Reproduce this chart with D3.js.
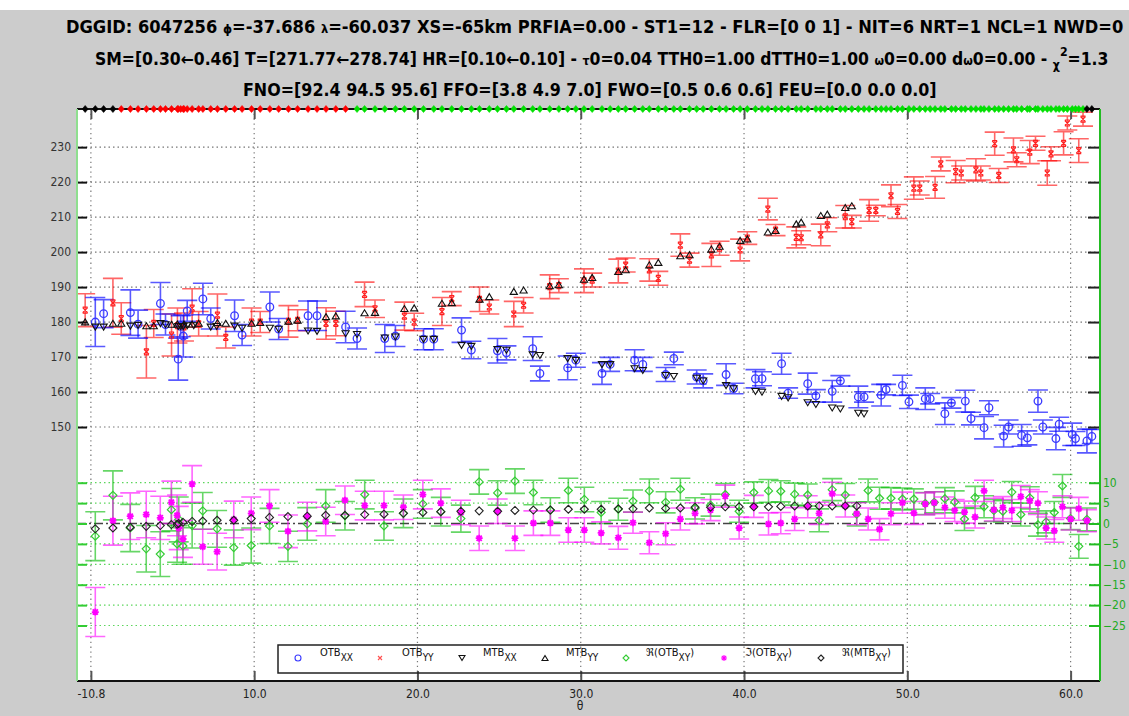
<!DOCTYPE html>
<html>
<head>
<meta charset="utf-8">
<script src="https://cdn.jsdelivr.net/npm/d3@7"></script>
<style>
  body { margin: 0; background: #fff; }
  svg { display: block; }
</style>
</head>
<body>
<svg id="chart" width="1129" height="716"></svg>
<script>
// ---- brightness temperatures vs incidence angle ----
const xxTheta = [0.27, 0.78, 2.42, 2.89, 4.26, 4.57, 5.35, 5.5, 5.66, 5.9, 6.86, 7.34, 8.8, 9.26, 10.96, 11.5, 13.3, 13.85, 15.6, 16.3, 18.0, 18.65, 20.37, 21.0, 22.7, 23.3, 24.9, 25.45, 27.06, 27.5, 29.2, 29.7, 31.3, 31.8, 33.3, 33.8, 35.2, 35.7, 37.1, 37.5, 38.9, 39.36, 40.7, 41.1, 42.3, 42.7, 43.9, 44.4, 45.4, 45.9, 47.0, 47.35, 48.4, 48.7, 49.7, 50.1, 51.1, 51.4, 52.3, 52.7, 53.55, 53.9, 54.7, 55.0, 55.9, 56.2, 57.0, 57.35, 58.0, 58.3, 59.1, 59.3, 60.1, 60.3, 61.0, 61.3];
const xxVal = [180.0, 182.4, 182.7, 179.4, 185.3, 179.3, 169.4, 178.8, 176.0, 183.2, 186.6, 181.0, 181.8, 176.3, 184.3, 178.0, 181.8, 181.8, 178.6, 175.3, 175.3, 176.0, 175.1, 175.1, 177.7, 172.0, 171.8, 171.2, 172.4, 165.3, 166.9, 169.1, 165.3, 167.9, 169.1, 167.9, 165.0, 169.6, 164.3, 163.2, 165.0, 161.0, 163.8, 163.8, 168.1, 159.7, 162.4, 158.9, 160.2, 163.2, 158.6, 158.6, 159.1, 160.7, 161.9, 157.2, 158.1, 158.1, 153.8, 156.9, 157.4, 152.4, 149.8, 155.5, 147.4, 150.0, 147.6, 146.9, 157.4, 150.0, 146.7, 150.8, 147.9, 146.7, 146.0, 147.3];
const xxErr = [7, 4, 6.5, 4, 6, 3, 6, 3, 6, 3, 4.5, 3, 4.5, 3, 4.3, 3, 4.2, 4.2, 4.5, 3, 4, 3, 3, 3, 3.5, 2.5, 3.5, 2, 3.4, 2.1, 3.4, 2, 3.1, 2, 3, 2, 2, 1.8, 2, 2, 3.1, 1.5, 2.6, 2, 3, 1.5, 3, 1.8, 3.1, 1.5, 3.1, 1.5, 3.1, 1.5, 2.9, 1.9, 3.1, 1.5, 3.1, 1.5, 3.1, 1.8, 3.2, 2, 3.1, 2, 3.1, 2, 3.2, 2, 3.2, 2, 3.2, 2, 3.4, 2];

const yyTheta = [-0.35, 1.35, 1.86, 3.4, 3.85, 4.94, 5.3, 5.7, 6.2, 6.6, 7.75, 8.26, 9.84, 10.37, 12.1, 12.66, 14.4, 15.0, 16.76, 17.4, 19.2, 19.8, 21.5, 22.1, 23.8, 24.4, 25.9, 26.5, 28.1, 28.66, 30.2, 30.7, 32.3, 32.75, 34.2, 34.75, 36.1, 36.66, 38.0, 38.5, 39.76, 40.2, 41.46, 41.93, 43.2, 43.5, 44.7, 45.1, 46.2, 46.6, 47.66, 48.07, 49.0, 49.4, 50.4, 50.76, 51.7, 52.05, 52.96, 53.3, 54.2, 54.5, 55.35, 55.6, 56.5, 56.7, 57.5, 57.85, 58.57, 58.8, 59.57, 59.8, 60.5, 60.76];
const yyVal = [183.4, 185.5, 181.0, 171.5, 179.6, 176.3, 179.0, 178.6, 184.0, 179.5, 182.0, 175.6, 180.0, 180.0, 180.2, 180.5, 179.6, 179.6, 187.9, 183.8, 181.7, 180.0, 183.0, 186.7, 186.5, 184.3, 182.3, 184.8, 190.1, 190.4, 191.8, 192.0, 194.6, 196.3, 194.9, 192.5, 202.0, 197.7, 199.2, 201.1, 200.6, 204.0, 212.3, 206.3, 204.2, 204.1, 204.9, 207.8, 210.1, 208.7, 211.9, 211.9, 216.1, 211.6, 218.3, 218.3, 218.5, 225.2, 223.0, 222.6, 223.5, 222.6, 231.0, 221.9, 229.2, 226.4, 228.6, 231.1, 222.6, 228.1, 231.1, 236.9, 229.0, 238.0];
const yyErr = [4.7, 7, 4.5, 7.5, 4, 6, 5, 4, 5.5, 3.5, 6, 3, 4, 3, 4.5, 3, 4.5, 3.5, 3.5, 2.5, 4, 2.5, 4, 2, 3.5, 2, 3.6, 2.2, 3.4, 2, 3.4, 2, 3.4, 2, 3.2, 2, 3.2, 2, 3.3, 2, 3.1, 1.8, 3.1, 1.6, 3, 2, 3.1, 2, 3.2, 1.8, 3.1, 1.5, 3.1, 2, 3.2, 2, 3.1, 2, 3.2, 2, 3.2, 2, 3.3, 2, 3.4, 2, 3.3, 2, 3.5, 2, 3.3, 2, 3.4, 2];

const mxxTheta = [0.27, 0.78, 2.42, 2.89, 4.26, 4.57, 5.35, 5.5, 5.66, 5.9, 6.3, 7.34, 7.7, 8.8, 9.26, 10.96, 11.5, 13.3, 13.85, 15.6, 16.3, 18.0, 18.65, 20.37, 21.0, 22.7, 23.3, 24.9, 25.45, 27.06, 27.5, 29.2, 29.7, 31.3, 31.8, 33.3, 33.8, 35.2, 35.7, 37.1, 37.5, 38.9, 39.36, 40.7, 41.1, 42.3, 42.7, 43.9, 44.4, 45.4, 45.9, 47.0, 47.35];
const mxxVal = [178.6, 178.6, 178.9, 179.1, 179.6, 179.3, 178.8, 178.8, 178.8, 179.0, 179.0, 178.6, 178.8, 178.9, 178.3, 178.3, 178.0, 177.5, 177.4, 176.7, 176.5, 175.5, 175.8, 175.1, 175.1, 173.4, 173.1, 172.2, 172.0, 170.7, 170.5, 169.6, 169.1, 167.9, 167.9, 166.7, 166.2, 164.8, 164.5, 164.0, 163.2, 161.9, 161.0, 160.2, 160.0, 158.8, 158.4, 157.0, 156.5, 155.5, 155.2, 154.0, 153.8];

const myyTheta = [-0.35, 1.35, 1.86, 3.4, 3.85, 4.94, 5.3, 5.7, 6.2, 6.6, 7.75, 8.26, 9.84, 10.37, 12.1, 12.66, 14.4, 15.0, 16.76, 17.4, 19.2, 19.8, 21.5, 22.1, 23.8, 24.4, 25.9, 26.5, 28.1, 28.66, 30.2, 30.7, 32.3, 32.75, 34.2, 34.75, 36.1, 36.66, 38.0, 38.5, 39.76, 40.2, 41.46, 41.93, 43.2, 43.5, 44.7, 45.1, 46.2, 46.6];
const myyVal = [180.0, 179.6, 179.6, 178.9, 178.9, 179.3, 179.4, 179.4, 179.4, 179.6, 179.8, 179.6, 179.6, 179.8, 180.2, 180.5, 181.5, 181.7, 182.6, 182.7, 183.8, 184.0, 185.3, 185.5, 186.5, 187.2, 188.7, 189.1, 190.3, 190.6, 192.2, 192.7, 194.4, 194.9, 196.3, 197.0, 198.9, 199.2, 200.8, 201.6, 203.3, 203.7, 205.7, 206.1, 208.0, 208.5, 210.4, 210.8, 212.7, 213.2];

// ---- cross-pol (right axis) ----
const xyTheta = [0.27, 1.35, 2.41, 3.39, 4.25, 4.93, 5.28, 5.38, 5.64, 6.2, 6.85, 7.73, 8.75, 9.82, 10.94, 12.07, 13.25, 14.38, 15.56, 16.77, 17.95, 19.14, 20.33, 21.43, 22.66, 23.78, 24.91, 25.97, 27.1, 28.14, 29.24, 30.22, 31.25, 32.3, 33.2, 34.2, 35.2, 36.1, 37.0, 37.95, 38.85, 39.7, 40.6, 41.5, 42.25, 43.1, 43.9, 44.6, 45.4, 46.2, 46.9, 47.6, 48.3, 49.0, 49.7, 50.4, 51.1, 51.65, 52.3, 52.9, 53.5, 54.15, 54.7, 55.3, 55.85, 56.4, 56.95, 57.5, 58.0, 58.5, 59.0, 59.5, 60.0, 60.5, 61.0];
const reXY = [-3.1, 6.9, -1.1, -6.2, -7.5, 3.4, -5.0, 1.0, -5.5, -0.5, 3.1, -1.3, -5.9, -5.4, -0.6, -5.6, -0.1, 4.3, 1.9, 7.1, -0.6, 2.5, 4.8, 2.9, 1.2, 10.2, 7.5, 10.4, 7.6, 3.3, 8.1, 5.9, 2.7, 3.5, 5.5, 8.0, 5.2, 8.4, 3.7, 4.5, 7.1, 3.0, 7.6, 8.0, 7.9, 7.2, 7.0, 0.8, 8.3, 7.0, 2.3, 8.1, 6.2, 6.2, 6.0, 6.0, 4.9, 5.2, 6.1, 5.3, 1.1, 6.4, 4.1, 3.2, 3.0, 7.7, 2.2, 6.3, -0.3, 0.4, 2.7, 9.2, 1.2, -5.6, 1.0];
const reXYErr = [6, 6, 5.8, 5.7, 5.5, 5.2, 4.5, 5.5, 4.5, 5.5, 4.5, 4.5, 4.3, 4.3, 4.3, 3.7, 4, 4, 3.5, 3.5, 3.5, 3.5, 3.5, 3.5, 3.3, 3, 3, 3, 3, 3, 3, 3, 2.7, 2.7, 2.7, 2.9, 2.6, 2.7, 2.6, 2.7, 2.7, 2.7, 2.6, 2.8, 2.6, 2.7, 2.7, 2.8, 2.7, 2.8, 2.9, 2.8, 2.7, 2.6, 2.7, 2.5, 2.7, 2.6, 2.7, 2.7, 2.8, 2.7, 2.7, 2.7, 2.6, 2.6, 2.8, 2.7, 2.8, 2.7, 2.7, 2.8, 2.7, 2.9, 2.8];
const imXY = [-21.7, 0.7, 1.8, 2.2, 1.4, 5.2, 2.0, -1.1, -3.8, 9.7, -5.7, -6.9, 1.0, 2.5, 4.3, -1.9, 1.7, 0.5, 5.7, 4.4, 4.4, 4.0, 7.1, 5.0, 2.7, -3.6, 3.0, -3.6, 0.1, 0.1, -1.6, -1.6, -2.3, -3.5, 0.2, -4.7, -2.5, 1.1, 2.5, 3.3, 6.7, -1.1, 4.2, -0.1, 0.1, 1.1, 4.1, 2.5, 7.3, 4.3, 2.4, 1.1, -1.4, 2.4, 5.1, 2.6, 4.8, 5.1, 3.9, 3.2, 2.8, 1.6, 8.0, 3.4, 3.9, 3.2, 6.6, 5.6, 5.0, -1.1, -1.8, 4.1, 1.1, 3.6, 0.7];
const imXYErr = [6, 6, 5.7, 5.7, 5.3, 5.2, 5, 5.3, 4.5, 4.5, 4.3, 4.5, 4.5, 4, 4, 4, 3.5, 3.5, 3.5, 3.5, 3.5, 3, 3.5, 3.5, 3, 3, 3, 3, 3, 3, 3, 3, 2.7, 2.8, 2.6, 2.7, 2.7, 2.7, 2.6, 2.6, 2.7, 2.7, 2.7, 2.7, 2.6, 2.8, 2.7, 2.7, 2.8, 2.7, 2.7, 2.7, 2.6, 2.7, 2.6, 2.8, 2.7, 2.7, 2.6, 2.7, 2.7, 2.7, 2.6, 2.8, 2.7, 2.7, 2.7, 2.7, 2.8, 2.7, 2.8, 2.7, 2.7, 2.8, 2.7];
const mxyTheta = xyTheta.slice(0, 51);
const mxyVal = [-1.3, -1.1, -0.9, -0.7, -0.5, -0.25, -0.2, 0.0, 0.3, 0.5, 0.6, 0.8, 0.8, 1.2, 1.5, 1.7, 1.8, 2.0, 2.0, 2.2, 2.3, 2.5, 2.7, 2.9, 3.0, 3.1, 3.0, 3.2, 3.3, 3.3, 3.5, 3.5, 3.5, 3.6, 3.6, 3.8, 3.7, 3.8, 4.0, 4.0, 4.1, 4.1, 4.1, 4.1, 4.2, 4.3, 4.3, 4.3, 4.3, 4.3, 4.3];

// ---- observation flag bands (top row) ----
const flagUpper = [1.6, 15.8, 60.9, 99];
const flagColor = ["#000000", "#ff0000", "#00e000", "#000000"];

// ---- axes ----
const xTickValues = [0, 10, 20, 30, 40, 50, 60];
const xTickLabels = ["-10.8", "10.0", "20.0", "30.0", "40.0", "50.0", "60.0"];
const leftTicks = [150, 160, 170, 180, 190, 200, 210, 220, 230];
const rightTicks = [10, 5, 0, -5, -10, -15, -20, -25];

const legendLabels = [
  ["OTB", "XX", ""], ["OTB", "YY", ""], ["MTB", "XX", ""], ["MTB", "YY", ""],
  ["ℜ(OTB", "XY", ")"], ["ℑ(OTB", "XY", ")"], ["ℜ(MTB", "XY", ")"]
];

const titleLines = [
  [["DGGID: 6047256 "], ["ϕ", "g"], ["=-37.686 "], ["λ", "g"], ["=-60.037 XS=-65km PRFIA=0.00 - ST1=12 - FLR=[0 0 1] - NIT=6 NRT=1 NCL=1 NWD=0"]],
  [["SM=[0.30←0.46] T=[271.77←278.74] HR=[0.10←0.10] - "], ["τ", "g"], ["0=0.04 TTH0=1.00 dTTH0=1.00 "], ["ω", "g"], ["0=0.00 d"], ["ω", "g"], ["0=0.00 - "], ["χ", "chi"], ["2", "sup"], ["=1.3"]],
  [["FNO=[92.4 94.5 95.6] FFO=[3.8 4.9 7.0] FWO=[0.5 0.6 0.6] FEU=[0.0 0.0 0.0]"]]
];

// ---- layout ----
const W = 1129, H = 716;
const PL = 77, PR = 1100, PT = 109, PB = 681;
const NARROW = "'Liberation Sans Narrow','Arial Narrow','DejaVu Sans Condensed',sans-serif";

const x = d3.scaleLinear().domain([-0.85, 61.8]).range([PL, PR]);
const yL = d3.scaleLinear().domain([77.4, 240.9]).range([PB, PT]);
const yR = d3.scaleLinear().domain([-38.6, 101.6]).range([PB, PT]);

const svg = d3.select("#chart");
svg.append("rect").attr("width", W).attr("height", H).attr("fill", "#fff");
svg.append("rect").attr("y", 10).attr("width", W).attr("height", H - 10).attr("fill", "#cccccc");
svg.append("rect").attr("x", PL).attr("y", PT).attr("width", PR - PL).attr("height", PB - PT).attr("fill", "#fff");

svg.append("defs").append("clipPath").attr("id", "plotClip")
  .append("rect").attr("x", PL).attr("y", PT).attr("width", PR - PL).attr("height", PB - PT);

// title: each line is set naturally, then stretched horizontally to span [x0, x0 + len]
const titleBox = [
  { x0: 66, y: 33, len: 1058 },
  { x0: 95, y: 65, len: 1014 },
  { x0: 243, y: 96, len: 694 }
];
titleLines.forEach((segs, li) => {
  const holder = svg.append("g");
  const t = holder.append("text")
    .attr("x", 0).attr("y", 0)
    .attr("text-anchor", "start")
    .attr("font-family", NARROW).attr("font-weight", "bold").attr("font-size", 17)
    .attr("fill", "#000");
  let shift = 0;
  segs.forEach(([txt, kind]) => {
    const sp = t.append("tspan").text(txt);
    let target = 0, size = null;
    if (kind === "g") { size = 12; target = 0; }
    else if (kind === "chi") { size = 12; target = 4; }
    else if (kind === "sup") { size = 12; target = -9; }
    if (size) sp.attr("font-size", size);
    if (target !== shift) { sp.attr("dy", target - shift); shift = target; }
  });
  const bb = t.node().getBBox();
  const sx = titleBox[li].len / bb.width;
  holder.attr("transform", `translate(${titleBox[li].x0 - bb.x * sx},${titleBox[li].y}) scale(${sx},1)`);
});

// grid
const grid = svg.append("g").attr("clip-path", "url(#plotClip)");
grid.selectAll(".vgrid").data(xTickValues).enter().append("line")
  .attr("x1", d => x(d)).attr("x2", d => x(d)).attr("y1", PT).attr("y2", PB)
  .attr("stroke", "#777").attr("stroke-width", 1.2).attr("stroke-dasharray", "1.3,3.5");
grid.selectAll(".lgrid").data(leftTicks).enter().append("line")
  .attr("x1", PL).attr("x2", PR).attr("y1", d => yL(d)).attr("y2", d => yL(d))
  .attr("stroke", "#777").attr("stroke-width", 1.2).attr("stroke-dasharray", "1.5,3");
grid.selectAll(".rgrid").data(rightTicks.filter(d => d !== 0)).enter().append("line")
  .attr("x1", PL).attr("x2", PR).attr("y1", d => yR(d)).attr("y2", d => yR(d))
  .attr("stroke", "#5cd65c").attr("stroke-width", 1.2).attr("stroke-dasharray", "1.5,3");
grid.append("line")
  .attr("x1", PL).attr("x2", PR).attr("y1", yR(0)).attr("y2", yR(0))
  .attr("stroke", "#444").attr("stroke-width", 1.5).attr("stroke-dasharray", "9,3,2,3");

const data = svg.append("g").attr("clip-path", "url(#plotClip)");

function errorBars(th, val, err, y, color, op) {
  const g = data.append("g").attr("stroke", color).attr("stroke-width", 1.6)
    .attr("stroke-opacity", op).attr("fill", "none");
  th.forEach((t, i) => {
    const p = d3.path();
    const cx = x(t), y0 = y(val[i] + err[i]), y1 = y(val[i] - err[i]);
    p.moveTo(cx, y0); p.lineTo(cx, y1);
    p.moveTo(cx - 10, y0); p.lineTo(cx + 10, y0);
    p.moveTo(cx - 10, y1); p.lineTo(cx + 10, y1);
    g.append("path").attr("d", p.toString());
  });
}

function markers(th, val, y, shape, color, width) {
  const g = data.append("g").attr("stroke", color).attr("stroke-width", width || 1.2).attr("fill", "none");
  th.forEach((t, i) => {
    const cx = x(t), cy = y(val[i]);
    const p = d3.path();
    if (shape === "circle") {
      g.append("circle").attr("cx", cx).attr("cy", cy).attr("r", 3.8);
      return;
    } else if (shape === "x") {
      p.moveTo(cx - 2.5, cy - 2.5); p.lineTo(cx + 2.5, cy + 2.5);
      p.moveTo(cx + 2.5, cy - 2.5); p.lineTo(cx - 2.5, cy + 2.5);
      p.moveTo(cx - 2.5, cy - 3); p.lineTo(cx + 2.5, cy - 3);
      p.moveTo(cx - 2.5, cy + 3); p.lineTo(cx + 2.5, cy + 3);
    } else if (shape === "down") {
      p.moveTo(cx - 3.6, cy - 2.8); p.lineTo(cx + 3.6, cy - 2.8); p.lineTo(cx, cy + 3.2); p.closePath();
    } else if (shape === "up") {
      p.moveTo(cx - 3.6, cy + 2.8); p.lineTo(cx + 3.6, cy + 2.8); p.lineTo(cx, cy - 3.2); p.closePath();
    } else if (shape === "diamond") {
      p.moveTo(cx, cy - 4); p.lineTo(cx + 4, cy); p.lineTo(cx, cy + 4); p.lineTo(cx - 4, cy); p.closePath();
    } else if (shape === "star") {
      p.moveTo(cx - 3.5, cy); p.lineTo(cx + 3.5, cy);
      p.moveTo(cx, cy - 3.5); p.lineTo(cx, cy + 3.5);
      p.moveTo(cx - 2.6, cy - 2.6); p.lineTo(cx + 2.6, cy + 2.6);
      p.moveTo(cx + 2.6, cy - 2.6); p.lineTo(cx - 2.6, cy + 2.6);
    }
    g.append("path").attr("d", p.toString());
  });
}

// lower panel (right axis)
errorBars(xyTheta, reXY, reXYErr, yR, "#00bb00", 0.6);
errorBars(xyTheta, imXY, imXYErr, yR, "#ff00ff", 0.6);
markers(xyTheta, reXY, yR, "diamond", "#33cc33", 1.2);
markers(xyTheta, imXY, yR, "star", "#ff00ff", 1.8);
markers(mxyTheta, mxyVal, yR, "diamond", "#222", 1.1);

// upper panel (left axis)
errorBars(yyTheta, yyVal, yyErr, yL, "#ff0000", 0.6);
errorBars(xxTheta, xxVal, xxErr, yL, "#0000ff", 0.65);
markers(yyTheta, yyVal, yL, "x", "#ff2020", 1.2);
markers(xxTheta, xxVal, yL, "circle", "#3a3aff", 1.3);
markers(mxxTheta, mxxVal, yL, "down", "#111", 1.1);
markers(myyTheta, myyVal, yL, "up", "#111", 1.1);

// axes
function styleAxis(g, color, width) {
  g.select(".domain").remove();
  g.selectAll(".tick line").attr("stroke", color).attr("stroke-width", width);
}
const xBottom = svg.append("g").attr("transform", `translate(0,${PB})`)
  .call(d3.axisBottom(x).tickValues(xTickValues).tickFormat((d, i) => xTickLabels[i])
    .tickSizeInner(-10).tickSizeOuter(0).tickPadding(8));
styleAxis(xBottom, "#555", 2);
xBottom.selectAll("text").attr("font-family", NARROW).attr("font-size", 12).attr("fill", "#222");

const xTop = svg.append("g").attr("transform", `translate(0,${PT})`)
  .call(d3.axisTop(x).tickValues(xTickValues).tickFormat("").tickSizeInner(-10).tickSizeOuter(0));
styleAxis(xTop, "#555", 2);

const yLeft = svg.append("g").attr("transform", `translate(${PL},0)`)
  .call(d3.axisLeft(yL).tickValues(leftTicks).tickFormat(d3.format("d"))
    .tickSizeInner(-10).tickSizeOuter(0).tickPadding(6));
styleAxis(yLeft, "#111", 2);
yLeft.selectAll("text").attr("font-family", NARROW).attr("font-size", 12).attr("fill", "#333");

const yLeftGreen = svg.append("g").attr("transform", `translate(${PL},0)`)
  .call(d3.axisLeft(yR).tickValues(rightTicks).tickFormat("").tickSizeInner(-10).tickSizeOuter(0));
styleAxis(yLeftGreen, "#33cc33", 2);

const yRight = svg.append("g").attr("transform", `translate(${PR},0)`)
  .call(d3.axisRight(yR).tickValues(rightTicks).tickFormat(d3.format("d"))
    .tickSizeInner(-11).tickSizeOuter(0).tickPadding(3));
styleAxis(yRight, "#22bb22", 2);
yRight.selectAll("text").attr("font-family", NARROW).attr("font-size", 12).attr("fill", "#22aa22");

const yRightBlack = svg.append("g").attr("transform", `translate(${PR},0)`)
  .call(d3.axisRight(yL).tickValues(leftTicks).tickFormat("").tickSizeInner(-12).tickSizeOuter(0));
styleAxis(yRightBlack, "#222", 2);

// frame
svg.append("line").attr("x1", PL).attr("x2", PR).attr("y1", PT).attr("y2", PT).attr("stroke", "#111").attr("stroke-width", 2);
svg.append("line").attr("x1", PL).attr("x2", PR).attr("y1", PB).attr("y2", PB).attr("stroke", "#111").attr("stroke-width", 2);
svg.append("line").attr("x1", PL).attr("x2", PL).attr("y1", PT).attr("y2", PB).attr("stroke", "#8fdf8f").attr("stroke-width", 2);
svg.append("line").attr("x1", PR).attr("x2", PR).attr("y1", PT).attr("y2", PB).attr("stroke", "#22bb22").attr("stroke-width", 2);

svg.append("text").attr("x", 580).attr("y", 710).attr("text-anchor", "middle")
  .attr("font-family", NARROW).attr("font-size", 12).attr("fill", "#222").text("θ");

// observation flags along the top edge
const obsTheta = xxTheta.concat(yyTheta).sort((a, b) => a - b);
const flagOf = t => flagColor[flagUpper.findIndex(u => t < u)];
svg.append("g").selectAll("path").data(obsTheta).enter().append("path")
  .attr("d", t => { const p = d3.path(); const cx = x(t);
    p.moveTo(cx, PT - 3.5); p.lineTo(cx + 3, PT); p.lineTo(cx, PT + 3.5); p.lineTo(cx - 3, PT); p.closePath();
    return p.toString(); })
  .attr("fill", flagOf).attr("stroke", flagOf).attr("stroke-width", 0.6);

// legend
const lg = svg.append("g");
lg.append("rect").attr("x", 278).attr("y", 645).attr("width", 625).attr("height", 28)
  .attr("fill", "none").attr("stroke", "#222").attr("stroke-width", 1.5);
const legSymX = [298, 380, 462, 545, 626, 724, 821];
const legTxtX = [320, 402, 483, 566, 646, 745, 842];
const legShape = ["circle", "x", "down", "up", "diamond", "star", "diamond"];
const legColor = ["#3a3aff", "#ff5050", "#111", "#111", "#33cc33", "#ff00ff", "#222"];
legShape.forEach((s, i) => {
  const cy = 658;
  const sx = legSymX[i];
  const g = lg.append("g").attr("stroke", legColor[i]).attr("fill", "none").attr("stroke-width", 1.1);
  const p = d3.path();
  if (s === "circle") { g.append("circle").attr("cx", sx).attr("cy", cy).attr("r", 3); }
  else if (s === "x") { p.moveTo(sx - 2, cy - 2); p.lineTo(sx + 2, cy + 2); p.moveTo(sx + 2, cy - 2); p.lineTo(sx - 2, cy + 2); }
  else if (s === "down") { p.moveTo(sx - 3, cy - 2.5); p.lineTo(sx + 3, cy - 2.5); p.lineTo(sx, cy + 2.5); p.closePath(); }
  else if (s === "up") { p.moveTo(sx - 3, cy + 2.5); p.lineTo(sx + 3, cy + 2.5); p.lineTo(sx, cy - 2.5); p.closePath(); }
  else if (s === "diamond") { p.moveTo(sx, cy - 3); p.lineTo(sx + 3, cy); p.lineTo(sx, cy + 3); p.lineTo(sx - 3, cy); p.closePath(); }
  else if (s === "star") { p.moveTo(sx - 3, cy); p.lineTo(sx + 3, cy); p.moveTo(sx, cy - 3); p.lineTo(sx, cy + 3);
    p.moveTo(sx - 2.2, cy - 2.2); p.lineTo(sx + 2.2, cy + 2.2); p.moveTo(sx + 2.2, cy - 2.2); p.lineTo(sx - 2.2, cy + 2.2); }
  if (s !== "circle") g.append("path").attr("d", p.toString());
  const t = lg.append("text").attr("x", legTxtX[i]).attr("y", 656)
    .attr("font-family", NARROW).attr("font-size", 11).attr("fill", "#111");
  t.append("tspan").text(legendLabels[i][0]);
  t.append("tspan").attr("dy", 5).attr("font-size", 10).text(legendLabels[i][1]);
  if (legendLabels[i][2]) t.append("tspan").attr("dy", -5).text(legendLabels[i][2]);
});
</script>
</body>
</html>
